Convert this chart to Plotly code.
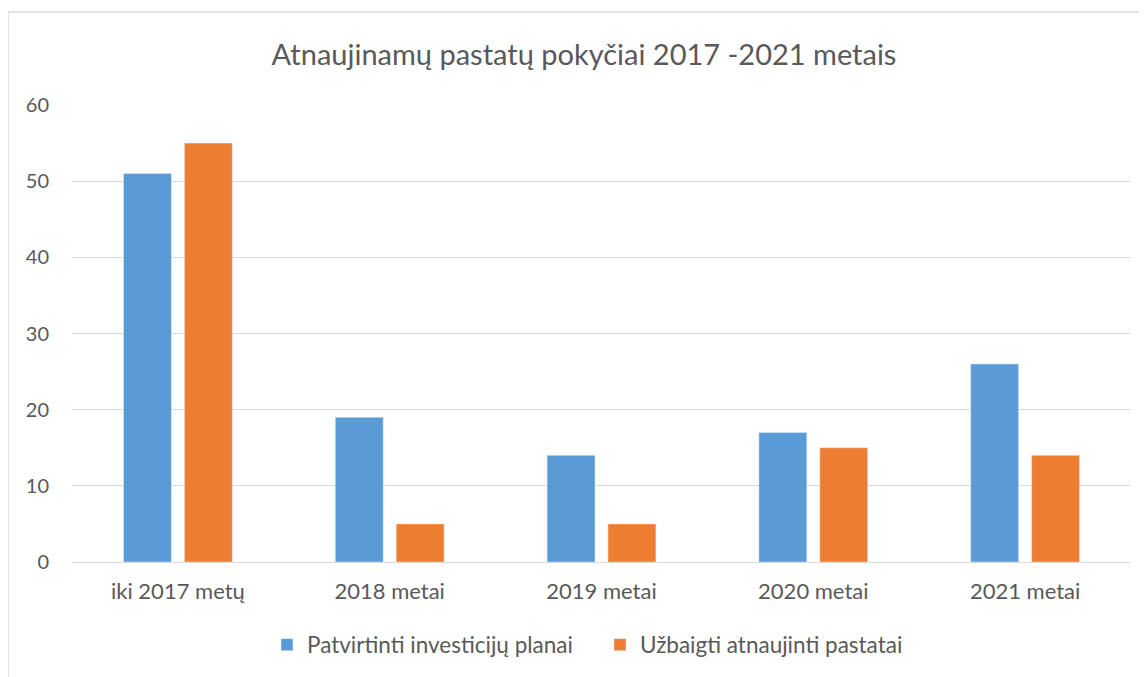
import plotly.graph_objects as go

categories = ["iki 2017 metų", "2018 metai", "2019 metai", "2020 metai", "2021 metai"]
patvirtinti = [51, 19, 14, 17, 26]
uzbaigti = [55, 5, 5, 15, 14]
series_names = ["Patvirtinti investicijų planai", "Užbaigti atnaujinti pastatai"]
tick_vals = [0, 10, 20, 30, 40, 50, 60]

# page has an 8px body offset; work in figure coordinates
OFF = 8
W, H = 1147, 677
ml, mr, mt, mb = 72 - OFF, 24, 105 - OFF, 123
pw = W - ml - mr
ph = H - mt - mb

fig = go.Figure()
fig.add_trace(go.Bar(x=categories, y=patvirtinti, name=series_names[0], marker_color="#5B9BD5"))
fig.add_trace(go.Bar(x=categories, y=uzbaigti, name=series_names[1], marker_color="#ED7D31"))

def px_x(p):
    return (p - OFF - ml) / pw

def px_y(p):
    return (H - mb - (p - OFF)) / ph

fig.update_layout(
    width=W, height=H,
    margin=dict(l=ml, r=mr, t=mt, b=mb),
    paper_bgcolor="white", plot_bgcolor="white",
    font=dict(family="Lato", color="#595959", size=18),
    title=dict(text="Atnaujinamų pastatų pokyčiai 2017 -2021 metais",
               x=(584 - OFF) / W, xref="container", xanchor="center",
               y=1 - (55 - OFF) / H, yanchor="middle",
               font=dict(size=29, color="#595959")),
    barmode="group", bargap=0.425, bargroupgap=0.213,
    showlegend=True,
    legend=dict(orientation="h", x=(600 - OFF) / W, xanchor="center", xref="container",
                y=1 - (645 - OFF) / H, yref="container", yanchor="middle",
                font=dict(size=22.5, color="#595959"), itemwidth=30,
                entrywidth=288, entrywidthmode="pixels",
                traceorder="normal"),
    xaxis=dict(showgrid=False, showline=False, ticks="", tickfont=dict(size=22),
               ticklabelstandoff=14, automargin=False),
    yaxis=dict(range=[0, 60], tickvals=tick_vals, showgrid=True, gridcolor="#d9d9d9",
               gridwidth=1, zeroline=True, zerolinecolor="#d9d9d9", zerolinewidth=1,
               showline=False, ticks="", ticklabelstandoff=22, automargin=False,
               tickfont=dict(size=20)),
    shapes=[dict(type="rect", xref="paper", yref="paper",
                 x0=px_x(8), x1=px_x(1200), y0=px_y(720), y1=px_y(12),
                 line=dict(color="#d9d9d9", width=1.5), fillcolor="rgba(0,0,0,0)",
                 layer="below")],
)

fig.write_html("out.html")
